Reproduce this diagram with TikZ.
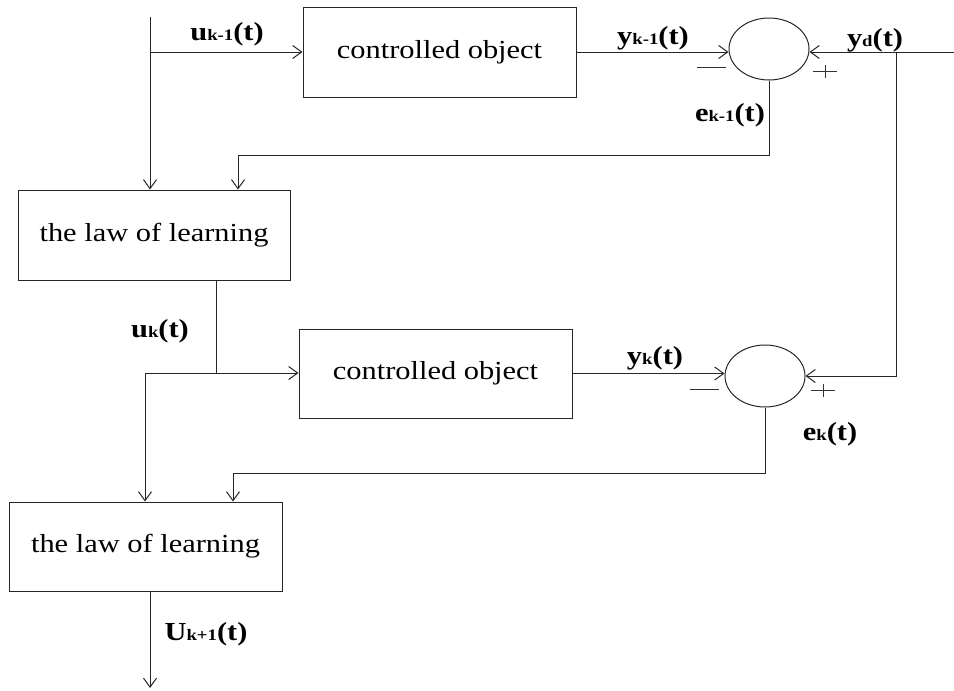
\documentclass[tikz,border=0pt]{standalone}
\usepackage{fontspec}
\setmainfont[FakeStretch=1.17]{Liberation Serif}
\usetikzlibrary{arrows.meta,shapes.geometric}
\newcommand\lab[2]{\textbf{\fontsize{26}{28}\selectfont #1{\fontsize{16}{16}\selectfont #2}(t)}}
\tikzset{
  blk/.style={draw=black!85, line width=1pt, rectangle, inner sep=0pt, font=\fontsize{26}{30}\selectfont},
  sumnode/.style={draw=black!85, line width=1pt, ellipse, inner sep=0pt, minimum width=80pt, minimum height=62pt},
  arr/.style={draw=black!85, line width=1pt, -{Straight Barb[length=9pt,width=13pt,line width=1pt]}},
  ln/.style={draw=black!85, line width=1pt},
  sig/.style={draw=black!80, line width=1pt}
}
\begin{document}
\begin{tikzpicture}[x=1pt,y=-1pt]
\useasboundingbox (0,0) rectangle (954,691);
% blocks
\node[blk, minimum width=273pt, minimum height=90pt] (co1) at (439.5,52) {controlled object};
\node[blk, minimum width=272pt, minimum height=90pt] (ll1) at (154,235) {the law of learning};
\node[blk, minimum width=273pt, minimum height=89pt] (co2) at (435.5,373.5) {controlled object};
\node[blk, minimum width=273pt, minimum height=89pt] (ll2) at (145.5,546.5) {the law of learning};
\node[sumnode] (s1) at (769,49) {};
\node[sumnode] (s2) at (765,376) {};
% coordinates
\coordinate (in) at (150,17);
\coordinate (yd) at (954,52);
\coordinate (tap) at (896,52);
\coordinate (f1) at (238,155);
\coordinate (b1) at (216,373);
\coordinate (b2) at (145,373);
\coordinate (f2) at (233,473);
\coordinate (out) at (150,688);
% connectors
\draw[arr] (in) -- (in |- ll1.north);
\draw[arr] (in |- co1.west) -- (co1.west);
\draw[arr] (co1.east) -- (co1.east -| s1.west);
\draw[arr] (yd) -- (yd -| s1.east);
\draw[arr] (tap) |- (s2.east);
\draw[arr] (s1.south) |- (f1) -- (f1 |- ll1.north);
\draw[ln] (b1 |- ll1.south) -- (b1);
\draw[ln] (b2) -- (b1);
\draw[arr] (b1) -- (b1 -| co2.west);
\draw[arr] (b2) -- (b2 |- ll2.north);
\draw[arr] (co2.east) -- (co2.east -| s2.west);
\draw[arr] (s2.south) |- (f2) -- (f2 |- ll2.north);
\draw[arr] (out |- ll2.south) -- (out);
% labels
\node (l1) at (227,34) {\lab{u}{k-1}};
\node (l2) at (653,38) {\lab{y}{k-1}};
\node (l3) at (875,40) {\lab{y}{d}};
\node (l4) at (730,115) {\lab{e}{k-1}};
\node (l5) at (160,331) {\lab{u}{k}};
\node (l6) at (655,358) {\lab{y}{k}};
\node (l7) at (830,434) {\lab{e}{k}};
\node (l8) at (206,634) {\lab{U}{k+1}};
% signs
\coordinate (m1) at (711.5,67);
\coordinate (p1) at (825,71.5);
\coordinate (m2) at (704.5,389);
\coordinate (p2) at (823,390);
\draw[sig] ([xshift=-14.5pt]m1) -- ([xshift=14.5pt]m1);
\draw[sig] ([xshift=-14.5pt]m2) -- ([xshift=14.5pt]m2);
\draw[sig] ([xshift=-12pt]p1) -- ([xshift=12pt]p1) ([yshift=-6.5pt]p1) -- ([yshift=6.5pt]p1);
\draw[sig] ([xshift=-12pt]p2) -- ([xshift=12pt]p2) ([yshift=-6.5pt]p2) -- ([yshift=6.5pt]p2);
\end{tikzpicture}
\end{document}
